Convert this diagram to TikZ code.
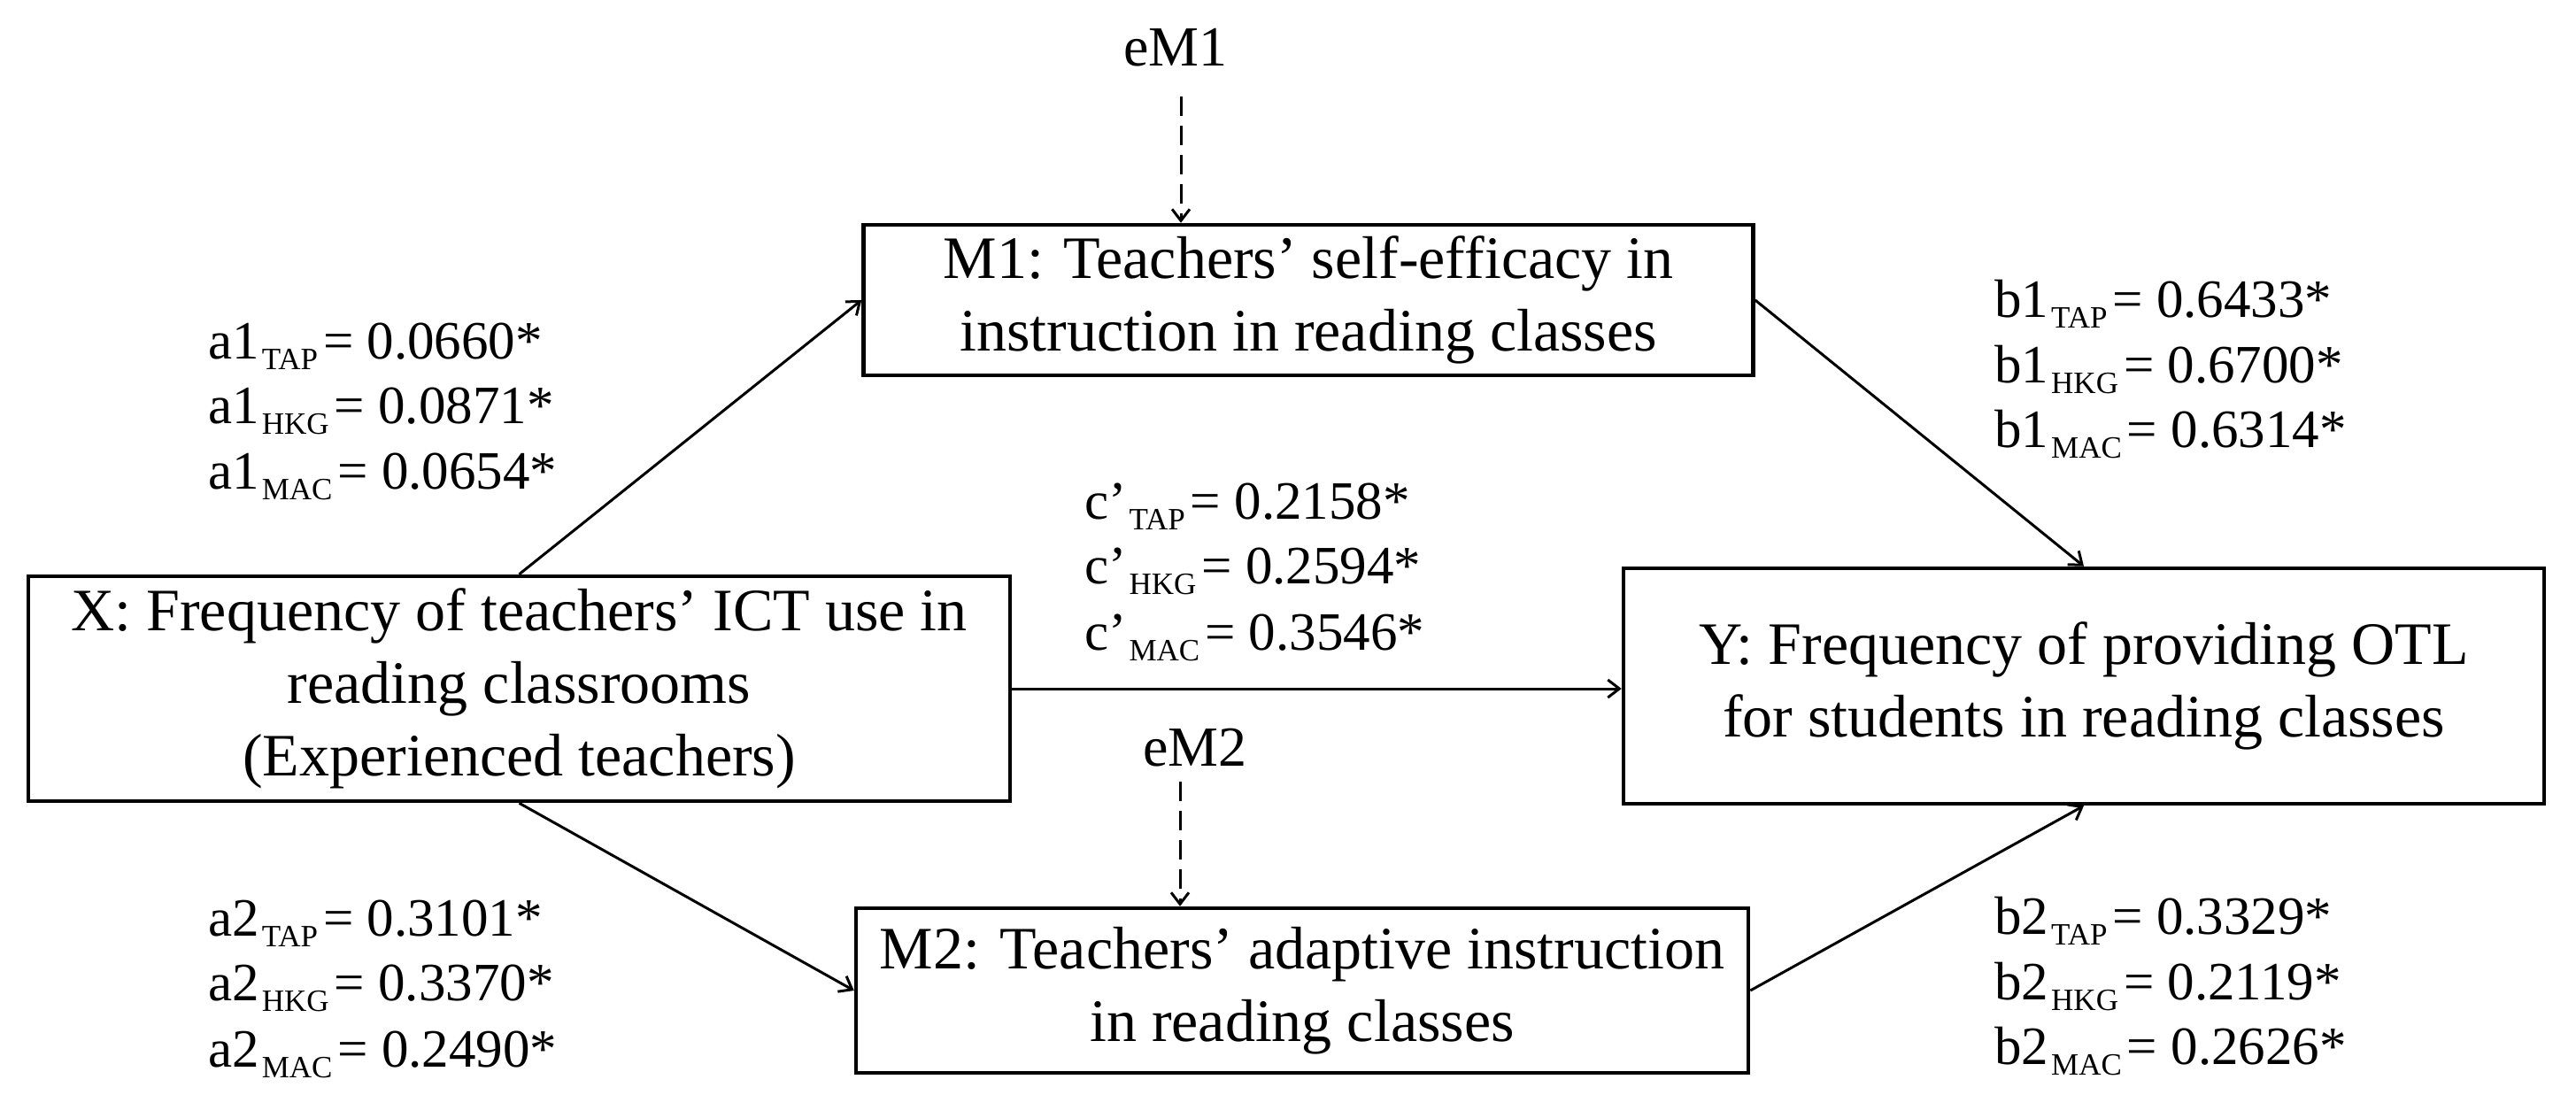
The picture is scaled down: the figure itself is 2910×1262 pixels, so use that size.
\documentclass[tikz,border=0pt]{standalone}
\usepackage{fontspec}
\setmainfont{Liberation Serif}
\usetikzlibrary{arrows.meta}
\newcommand\sbs[1]{\hspace{3pt}\raisebox{-12pt}{\fontsize{35}{35}\selectfont #1}\hspace{6pt}}
\begin{document}
\begin{tikzpicture}[x=1pt,y=-1pt,
  box/.style={draw, line width=4.5pt, align=center, inner sep=0pt,
    font=\fontsize{68}{82}\selectfont},
  lbl/.style={anchor=base west, inner sep=0pt, font=\fontsize{61}{74}\selectfont},
  elbl/.style={inner sep=0pt, font=\fontsize{64}{74}\selectfont},
  arr/.style={line width=3pt, -{Straight Barb[length=13pt,width=20pt]}},
  darr/.style={line width=3pt, dash pattern=on 22pt off 11pt, -{Straight Barb[length=13pt,width=20pt]}}]
\useasboundingbox (0,0) rectangle (2910,1262);
% boxes
\node[box, minimum width=1109pt, minimum height=254pt] (X) at (586.5,778)
  {X: Frequency of teachers’ ICT use in\\reading classrooms\\(Experienced teachers)};
\node[box, minimum width=1040pt, minimum height=266pt] (Y) at (2354,775)
  {Y: Frequency of providing OTL\\for students in reading classes};
\node[box, minimum width=1005pt, minimum height=170pt] (M1) at (1478,339)
  {M1: Teachers’ self-efficacy in\\instruction in reading classes};
\node[box, minimum width=1008pt, minimum height=186pt] (M2) at (1471,1119)
  {M2: Teachers’ adaptive instruction\\in reading classes};
% error terms
\node[elbl] (eM1) at (1328,54) {eM1};
\node[elbl] (eM2) at (1350,845) {eM2};
\coordinate (e1s) at (1334,109);
\coordinate (e2s) at (1333,883);
\draw[darr] (e1s) -- (e1s |- M1.north);
\draw[darr] (e2s) -- (e2s |- M2.north);
% paths
\draw[arr] (X.north) -- (M1.west);
\draw[arr] (X.south) -- (M2.west);
\draw[arr] (M1.east) -- (Y.north);
\draw[arr] (M2.east) -- (Y.south);
\draw[arr] (X.east) -- (X.east -| Y.west);
% labels a1
\node[lbl] (a1t) at (235,405) {a1\sbs{TAP}= 0.0660*};
\node[lbl] (a1h) at (235,478) {a1\sbs{HKG}= 0.0871*};
\node[lbl] (a1m) at (235,552) {a1\sbs{MAC}= 0.0654*};
% labels c'
\node[lbl] (ct) at (1225,586) {c’\sbs{TAP}= 0.2158*};
\node[lbl] (ch) at (1225,659) {c’\sbs{HKG}= 0.2594*};
\node[lbl] (cm) at (1225,734) {c’\sbs{MAC}= 0.3546*};
% labels b1
\node[lbl] (b1t) at (2253,358) {b1\sbs{TAP}= 0.6433*};
\node[lbl] (b1h) at (2253,432) {b1\sbs{HKG}= 0.6700*};
\node[lbl] (b1m) at (2253,505) {b1\sbs{MAC}= 0.6314*};
% labels a2
\node[lbl] (a2t) at (235,1057) {a2\sbs{TAP}= 0.3101*};
\node[lbl] (a2h) at (235,1130) {a2\sbs{HKG}= 0.3370*};
\node[lbl] (a2m) at (235,1205) {a2\sbs{MAC}= 0.2490*};
% labels b2
\node[lbl] (b2t) at (2253,1055) {b2\sbs{TAP}= 0.3329*};
\node[lbl] (b2h) at (2253,1129) {b2\sbs{HKG}= 0.2119*};
\node[lbl] (b2m) at (2253,1202) {b2\sbs{MAC}= 0.2626*};
\end{tikzpicture}
\end{document}
